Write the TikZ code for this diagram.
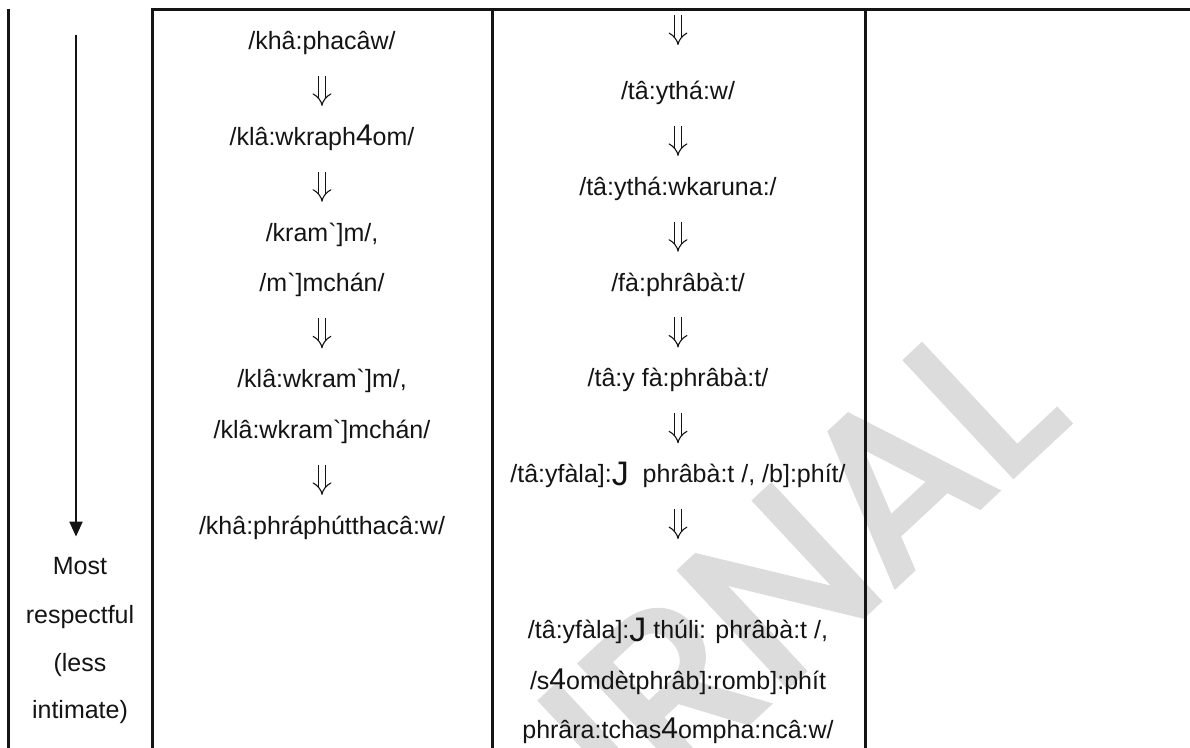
\documentclass[tikz,border=0pt]{standalone}
\usepackage{fontspec}
\setmainfont{Liberation Sans}
\newfontfamily\rawsans{Liberation Sans}
\newfontfamily\markfont{Poppins}[FakeBold=3]
\usetikzlibrary{arrows.meta, positioning}
\definecolor{rgInk}{HTML}{141414}
\definecolor{rgMark}{HTML}{DCDCDC}
\newcommand{\bigfour}{{\fontsize{15}{15}\selectfont 4}}
\newcommand{\hookj}{\raisebox{-1.5pt}{\fontsize{17}{17}\selectfont J}}
\newcommand{\grv}{{\rawsans`}}
\tikzset{
  rgcell/.style={inner sep=0pt, text height=9pt, text depth=2.5pt,
    font=\fontsize{12.5}{15}\selectfont, text=rgInk},
  rgarrow/.style={double, double distance=2.8pt, line width=0.55pt, draw=rgInk,
    -{Implies[scale=1.3]}, shorten <=10.5pt, shorten >=10.5pt},
  rgrule/.style={line width=1.5pt, draw=rgInk},
  rankarrow/.style={line width=1pt, draw=rgInk, fill=rgInk,
    -{Triangle[length=7.5pt, width=6.5pt]}}
}

\begin{document}
\begin{tikzpicture}[x=0.5pt, y=-0.5pt]
  \useasboundingbox (0,0) rectangle (1190,748);
  \begin{scope}
    \clip (0,0) rectangle (1190,748);
    \node[anchor=base east, rotate=43, inner sep=0pt, text=rgMark,
      font=\markfont\fontsize{112}{112}\selectfont] (mark) at (1072,420) {JOURNAL};
  \end{scope}

  % table rules
  \draw[rgrule] (151.25,9.5) -- (1190,9.5);
  \foreach \x in {8.5,152,492,865}
    \draw[rgrule] (\x,8.75) -- (\x,748);

  % left column
  \node[rgcell] (most) at (80,568) {Most};
  \node[rgcell, below=12.5pt of most] (resp) {respectful};
  \node[rgcell, below=12pt of resp] (less) {(less};
  \node[rgcell, below=12pt of less] (intim) {intimate)};
  \coordinate (rtop) at (76,35);
  \draw[rankarrow] (rtop) -- ([yshift=9.75pt]rtop |- most.north);

  % second column
  \node[rgcell] (a1) at (322,43) {/khâ:phacâw/};
  \node[rgcell, below=36pt of a1] (a2) {/klâ:wkraph\bigfour om/};
  \node[rgcell, below=36pt of a2] (a3) {/kram\grv]m/,};
  \node[rgcell, below=13.5pt of a3] (a4) {/m\grv]mchán/};
  \node[rgcell, below=36pt of a4] (a5) {/klâ:wkram\grv]m/,};
  \node[rgcell, below=13.5pt of a5] (a6) {/klâ:wkram\grv]mchán/};
  \node[rgcell, below=36pt of a6] (a7) {/khâ:phráphútthacâ:w/};
  \draw[rgarrow] (a1) -- (a2);
  \draw[rgarrow] (a2) -- (a3);
  \draw[rgarrow] (a4) -- (a5);
  \draw[rgarrow] (a6) -- (a7);

  % third column
  \coordinate (btop) at (678,9.5);
  \node[rgcell] (b1) at (678,93) {/tâ:ythá:w/};
  \node[rgcell, below=36pt of b1] (b2) {/tâ:ythá:wkaruna:/};
  \node[rgcell, below=36pt of b2] (b3) {/fà:phrâbà:t/};
  \node[rgcell, below=36pt of b3] (b4) {/tâ:y fà:phrâbà:t/};
  \node[rgcell, below=36pt of b4] (b5) {/tâ:yfàla]:\hookj~ phrâbà:t /, /b]:phít/};
  \node[rgcell, below=66pt of b5] (b6) {/tâ:yfàla]:\hookj\ thúli: phrâbà:t /,};
  \node[rgcell, below=13.5pt of b6] (b7) {/s\bigfour omdètphrâb]:romb]:phít};
  \node[rgcell, below=12.5pt of b7] (b8) {phrâra:tchas\bigfour ompha:ncâ:w/};
  \draw[rgarrow, shorten <=3pt, shorten >=18pt] (btop) -- (b1);
  \draw[rgarrow] (b1) -- (b2);
  \draw[rgarrow] (b2) -- (b3);
  \draw[rgarrow] (b3) -- (b4);
  \draw[rgarrow] (b4) -- (b5);
  \draw[rgarrow, shorten >=40.5pt] (b5) -- (b6);
\end{tikzpicture}
\end{document}
